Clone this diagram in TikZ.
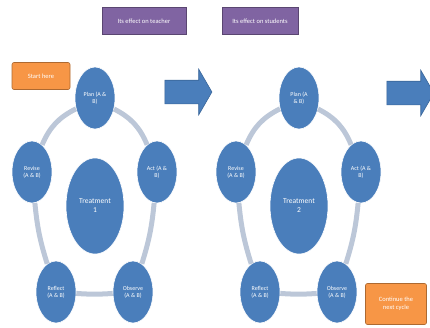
\documentclass[tikz,border=0pt]{standalone}
\usepackage{fontspec}
\setmainfont{Carlito}
\definecolor{cycleblue}{HTML}{4A7EBB}
\definecolor{cycleedge}{HTML}{3A6699}
\definecolor{ringgray}{HTML}{BCC7D8}
\definecolor{notepurple}{HTML}{8064A2}
\definecolor{noteorange}{HTML}{F79646}
\usetikzlibrary{shapes.geometric,shapes.arrows}

\begin{document}
\begin{tikzpicture}[x=1pt,y=-1pt,font=\fontsize{6}{7}\selectfont]
        \tikzset{
            stagebox/.style={
                ellipse,
                draw=white,
                fill=cycleblue,
                text=white,
                line width=0.6pt,
                inner sep=0pt,
                minimum width=40pt,
                minimum height=62pt,
                align=center
            },
            treatment/.style={stagebox,minimum width=58pt,minimum height=96pt,
                font=\fontsize{7.5}{9}\selectfont},
            ring/.style={
                draw=ringgray,
                line width=5pt
            },
            effect/.style={
                draw=notepurple!70!black,
                fill=notepurple,
                text=white,
                line width=0.6pt,
                minimum height=27pt,
                font=\fontsize{6.5}{8}\selectfont,
                align=center
            },
            hint/.style={
                draw=noteorange!70!black,
                fill=noteorange,
                text=white,
                rounded corners=2pt,
                line width=0.6pt,
                inner sep=1pt,
                font=\fontsize{6.5}{8}\selectfont,
                align=center
            },
            bigarrow/.style={
                single arrow,
                draw=cycleedge,
                fill=cycleblue,
                line width=0.6pt,
                minimum height=47pt,
                single arrow head extend=11pt,
                single arrow tip angle=120,
                inner xsep=0pt,
                inner ysep=11.5pt
            }
        }
        \useasboundingbox (0,0) rectangle (430,327);

        % first cycle
        \node[treatment] (treatone) at (95,206) {Treatment\\1};
        \node[stagebox] (planone) at (95,98) {Plan (A \&\\B)};
        \node[stagebox] (actone) at (157,172) {Act (A \&\\B)};
        \node[stagebox] (observeone) at (133,292) {Observe\\(A \& B)};
        \node[stagebox] (reflectone) at (56,292) {Reflect\\(A \& B)};
        \node[stagebox] (reviseone) at (32,172) {Revise\\(A \& B)};

        \draw[ring] (planone) to[bend left=20] (actone);
        \draw[ring] (actone) to[bend left=6] (observeone);
        \draw[ring] (observeone) to[bend left=4] (reflectone);
        \draw[ring] (reflectone) to[bend left=6] (reviseone);
        \draw[ring] (reviseone) to[bend left=20] (planone);

        % second cycle
        \node[treatment] (treattwo) at (299,206) {Treatment\\2};
        \node[stagebox] (plantwo) at (299,98) {Plan (A\\\& B)};
        \node[stagebox] (acttwo) at (361,172) {Act (A \&\\B)};
        \node[stagebox] (observetwo) at (337,292) {Observe\\(A \& B)};
        \node[stagebox] (reflecttwo) at (260,292) {Reflect\\(A \& B)};
        \node[stagebox] (revisetwo) at (236,172) {Revise\\(A \& B)};

        \draw[ring] (plantwo) to[bend left=20] (acttwo);
        \draw[ring] (acttwo) to[bend left=6] (observetwo);
        \draw[ring] (observetwo) to[bend left=4] (reflecttwo);
        \draw[ring] (reflecttwo) to[bend left=6] (revisetwo);
        \draw[ring] (revisetwo) to[bend left=20] (plantwo);

        \node[bigarrow] (nextone) at (185,92) {};
        \node[bigarrow] (nexttwo) at (407,93) {};

        \node[effect,minimum width=84pt] (onteacher) at (144,21) {Its effect on teacher};
        \node[effect,minimum width=76pt] (onstudents) at (260,21) {Its effect on students};
        \node[hint,minimum width=58pt,minimum height=27pt] (start) at (41,76) {Start here};
        \node[hint,minimum width=61pt,minimum height=41pt] (continue) at (396,304)
            {Continue the\\next cycle};
    \end{tikzpicture}
\end{document}
